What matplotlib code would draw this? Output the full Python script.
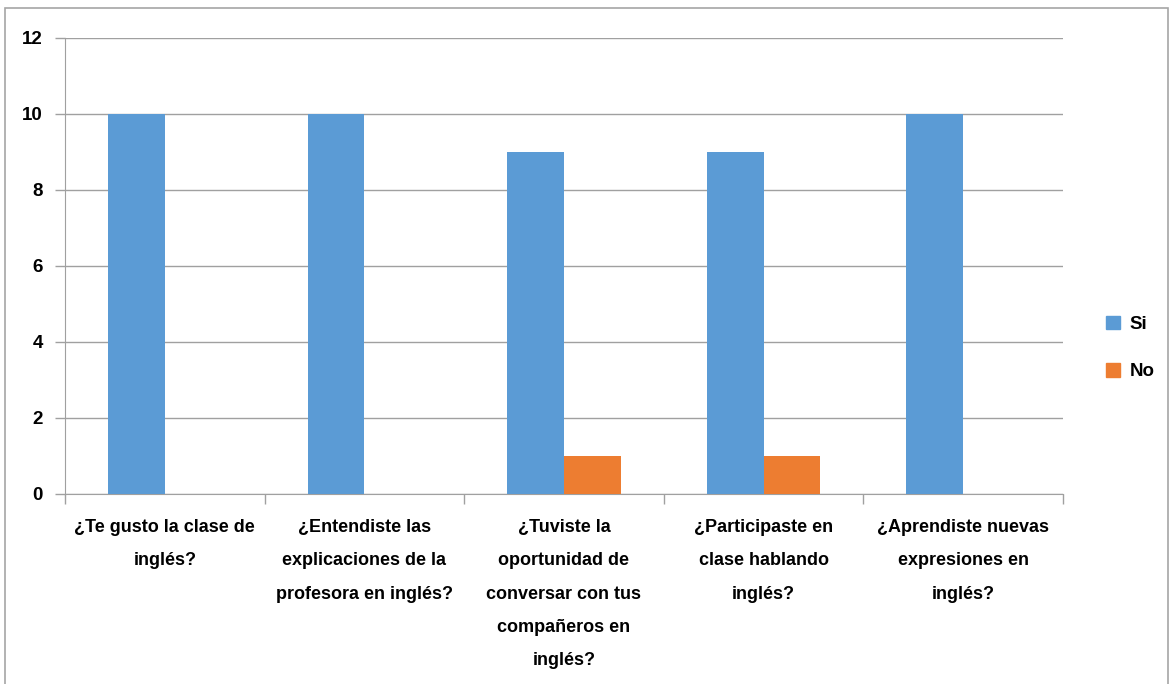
import matplotlib.pyplot as plt
from matplotlib.patches import Rectangle, Patch
import numpy as np

# Data
categories = [
    "¿Te gusto la clase de\ninglés?",
    "¿Entendiste las\nexplicaciones de la\nprofesora en inglés?",
    "¿Tuviste la\noportunidad de\nconversar con tus\ncompañeros en\ninglés?",
    "¿Participaste en\nclase hablando\ninglés?",
    "¿Aprendiste nuevas\nexpresiones en\ninglés?",
]
si = [10, 10, 9, 9, 10]
no = [0, 0, 1, 1, 0]
yticks = [0, 2, 4, 6, 8, 10, 12]

blue = "#5b9bd5"
orange = "#ed7d31"
grid_c = "#a0a0a0"

plt.rcParams['font.family'] = ['Liberation Sans', 'DejaVu Sans']

fig = plt.figure(figsize=(11.73, 6.84), dpi=100)
ax = fig.add_axes([65/1173, 1 - 494/684, (1063 - 65)/1173, (494 - 38)/684])

x = np.arange(len(categories))
w = 0.285
ax.bar(x - w/2, si, w, color=blue, zorder=3)
ax.bar(x + w/2, no, w, color=orange, zorder=3)

ax.set_xlim(-0.5, len(categories) - 0.5)
ax.set_ylim(0, 12)
ax.set_yticks(yticks)
ax.set_yticklabels([str(t) for t in yticks], fontsize=13.5, fontweight='bold')
ax.yaxis.grid(True, color=grid_c, linewidth=1, zorder=0)

# category labels and boundary ticks
ax.set_xticks(np.arange(len(categories) + 1) - 0.5)
ax.set_xticklabels([])
ax.tick_params(axis='x', length=7, color=grid_c, width=1)
ax.tick_params(axis='y', length=7, color=grid_c, width=1, pad=9)
for i, lab in enumerate(categories):
    ax.text(i, -0.66, lab, ha='center', va='top', fontsize=13, fontweight='bold',
            linespacing=2.25, transform=ax.transData)

for s in ['top', 'right']:
    ax.spines[s].set_visible(False)
ax.spines['left'].set_color(grid_c)
ax.spines['bottom'].set_color(grid_c)

# legend
handles = [Patch(color=blue, label='Si'), Patch(color=orange, label='No')]
fig.legend(handles=handles, loc='center left', bbox_to_anchor=(1089/1173, 1 - 348/684),
           frameon=False, handlelength=0.75, handleheight=0.75, handletextpad=0.5,
           labelspacing=1.6, prop={'size': 13.5, 'weight': 'bold'})

# outer frame
fig.add_artist(Rectangle((5/1173, -0.05), (1168 - 5)/1173, 1.05 - 8/684,
                         transform=fig.transFigure, fill=False, edgecolor='#a6a6a6',
                         linewidth=1.2, clip_on=False))

fig.savefig("out.png", dpi=100)
